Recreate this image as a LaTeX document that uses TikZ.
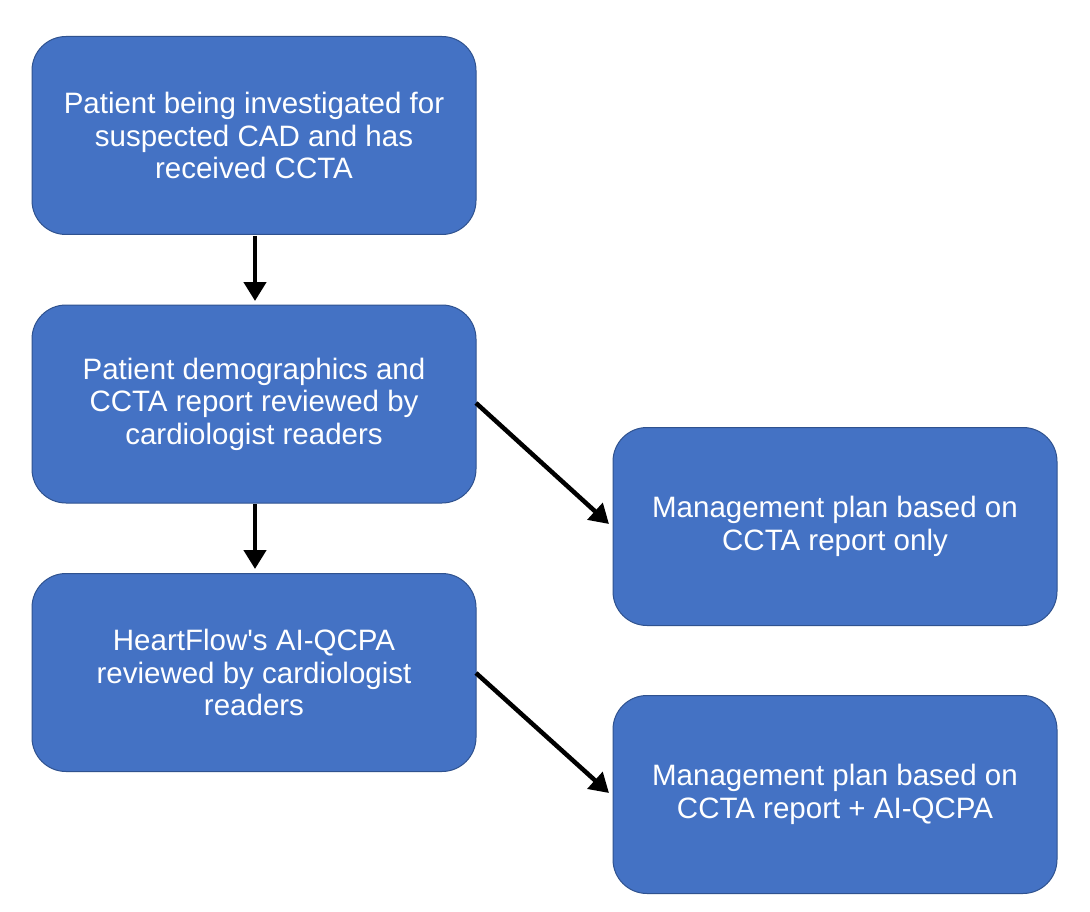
\documentclass[tikz,border=0pt]{standalone}
\usepackage{fontspec}
\setmainfont{Liberation Sans}
\usetikzlibrary{arrows.meta}
\definecolor{boxblue}{HTML}{4472C4}
\definecolor{boxedge}{HTML}{2F528F}
\begin{document}
\begin{tikzpicture}[x=1pt,y=-1pt,
  flowbox/.style={draw=boxedge, line width=1pt, fill=boxblue, rounded corners=34pt,
    minimum width=444pt, minimum height=198pt, text=white, align=center,
    font=\fontsize{29.5}{32.5}\selectfont, inner sep=0pt},
  flowarrow/.style={line width=4.5pt, -{Triangle[width=22pt,length=19pt]}}]
\useasboundingbox[fill=white] (0,0) rectangle (1090,912);
\node[flowbox] (b1) at (254,135.5) {Patient being investigated for\\suspected CAD and has\\received CCTA};
\node[flowbox] (b2) at (254,404) {Patient demographics and\\CCTA report reviewed by\\cardiologist readers};
\node[flowbox] (b3) at (254,672.5) {HeartFlow\textquotesingle s AI-QCPA\\reviewed by cardiologist\\readers};
\node[flowbox] (b4) at (835,526.5) {Management plan based on\\CCTA report only};
\node[flowbox] (b5) at (835,794.5) {Management plan based on\\CCTA report + AI-QCPA};
\coordinate (a1s) at (255,236);
\coordinate (a1e) at (255,301);
\coordinate (a2s) at (255,504);
\coordinate (a2e) at (255,569);
\coordinate (d1s) at (476,403);
\coordinate (d1e) at (609,524);
\coordinate (d2s) at (476,673);
\coordinate (d2e) at (609,793);
\draw[flowarrow] (a1s) -- (a1e);
\draw[flowarrow] (a2s) -- (a2e);
\draw[flowarrow] (d1s) -- (d1e);
\draw[flowarrow] (d2s) -- (d2e);
\end{tikzpicture}
\end{document}
